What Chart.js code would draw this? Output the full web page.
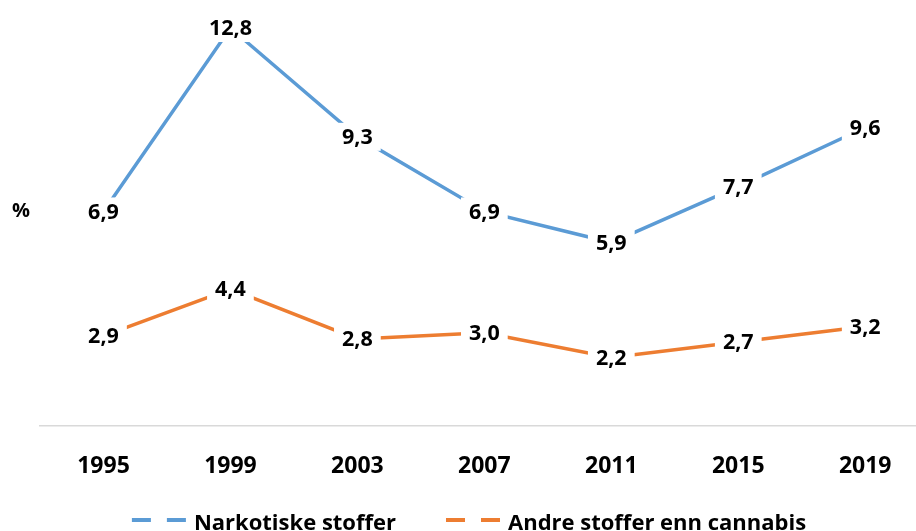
<!DOCTYPE html>
<html><head><meta charset="utf-8">
<script src="https://cdn.jsdelivr.net/npm/chart.js@4/dist/chart.umd.min.js"></script>
<style>html,body{margin:0;padding:0;background:#fff;overflow:hidden}#wrap{width:916px;height:531px;position:relative}</style>
</head><body><div id="wrap"><canvas id="c" width="916" height="531"></canvas></div>
<script>
const years = ['1995','1999','2003','2007','2011','2015','2019'];
const narkotiske = [6.9, 12.8, 9.3, 6.9, 5.9, 7.7, 9.6];
const andre = [2.9, 4.4, 2.8, 3.0, 2.2, 2.7, 3.2];
const seriesNames = ['Narkotiske stoffer', 'Andre stoffer enn cannabis'];
const seriesColors = ['#5B9BD5', '#ED7D31'];
const yUnit = '%';
const FONT = '"Open Sans", "DejaVu Sans", sans-serif';

const toPoints = arr => arr.map((v, i) => ({x: i, y: v}));
const fmt = v => v.toFixed(1).replace('.', ',');

const labelPlugin = {
  id: 'labelsAndLegend',
  afterDatasetsDraw(chart) {
    const ctx = chart.ctx;
    ctx.save();
    ctx.font = 'bold 21.5px ' + FONT;
    ctx.textAlign = 'center';
    ctx.textBaseline = 'middle';
    chart.data.datasets.forEach((ds, di) => {
      const meta = chart.getDatasetMeta(di);
      meta.data.forEach((pt, i) => {
        const txt = fmt(ds.data[i].y);
        const w = ctx.measureText(txt).width;
        ctx.fillStyle = '#fff';
        ctx.fillRect(pt.x - w / 2 - 8, pt.y - 14, w + 16, 28);
        ctx.fillStyle = '#000';
        ctx.fillText(txt, pt.x, pt.y + 1);
      });
    });
    // unit label
    ctx.font = 'bold 20px ' + FONT;
    ctx.fillText(yUnit, 21, 211);
    // legend
    ctx.font = 'bold 22px ' + FONT;
    const sample = 54, gap = 8, between = 50;
    const widths = chart.data.datasets.map(ds => ctx.measureText(ds.label).width);
    const total = widths.reduce((a, b) => a + b, 0) + chart.data.datasets.length * (sample + gap) + between;
    let x = 469 - total / 2;
    ctx.textAlign = 'left';
    ctx.textBaseline = 'alphabetic';
    chart.data.datasets.forEach((ds, di) => {
      ctx.strokeStyle = ds.borderColor;
      ctx.lineWidth = 4;
      ctx.setLineDash([19, 16]);
      ctx.beginPath();
      ctx.moveTo(x, 520);
      ctx.lineTo(x + sample, 520);
      ctx.stroke();
      ctx.setLineDash([]);
      ctx.fillStyle = '#000';
      ctx.fillText(ds.label, x + sample + gap, 530);
      x += sample + gap + widths[di] + between;
    });
    ctx.restore();
  }
};

new Chart(document.getElementById('c'), {
  type: 'line',
  data: {
    datasets: [
      {label: seriesNames[0], data: toPoints(narkotiske), borderColor: seriesColors[0], backgroundColor: seriesColors[0], borderWidth: 3.5, pointRadius: 0, tension: 0, fill: false},
      {label: seriesNames[1], data: toPoints(andre), borderColor: seriesColors[1], backgroundColor: seriesColors[1], borderWidth: 3.5, pointRadius: 0, tension: 0, fill: false}
    ]
  },
  options: {
    responsive: false,
    animation: false,
    devicePixelRatio: 1,
    layout: {padding: {left: 40, right: 0, top: 0, bottom: 0}},
    plugins: {legend: {display: false}, tooltip: {enabled: false}},
    scales: {
      x: {
        type: 'linear', min: -0.5, max: 6.4,
        afterFit: s => { s.height = 105; },
        afterBuildTicks: s => { s.ticks = years.map((y, i) => ({value: i})); },
        grid: {display: false},
        border: {display: true, color: '#d9d9d9', width: 1.5},
        ticks: {
          callback: v => years[v],
          autoSkip: false, maxRotation: 0,
          font: {family: FONT, size: 23, weight: 'bold'},
          color: '#000', padding: 19
        }
      },
      y: {display: false, min: 0, max: 13.7}
    }
  },
  plugins: [labelPlugin]
});
</script>
</body></html>
